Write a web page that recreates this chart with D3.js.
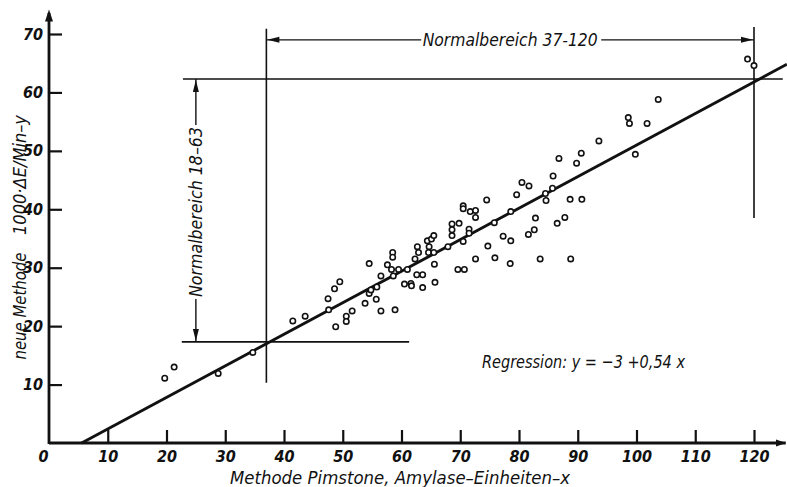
<!DOCTYPE html>
<html><head><meta charset="utf-8">
<script src="https://cdn.jsdelivr.net/npm/d3@7"></script>
<style>
html,body{margin:0;padding:0;background:#fff;}
text{font-family:"Liberation Sans Narrow","DejaVu Sans Condensed","Liberation Sans",sans-serif;font-style:italic;fill:#111;}
</style></head>
<body>
<svg id="c" width="787" height="487"></svg>
<script>
// ---- data ----
const xTicks = [0,10,20,30,40,50,60,70,80,90,100,110,120];
const yTicks = [10,20,30,40,50,60,70];
const pimstone = [19.7,21.3,28.8,34.7,41.5,43.6,47.5,47.6,48.6,49.5,48.8,50.6,50.6,51.6,53.8,54.5,54.5,54.8,55.8,55.7,
  56.5,56.5,57.6,58.5,58.5,58.3,58.6,58.9,59.5,61.0,60.5,61.6,61.7,62.6,63.6,63.6,65.6,65.7,62.3,62.9,
  62.7,64.6,64.4,65.1,65.5,64.7,65.5,67.9,68.6,68.6,68.6,69.8,71.5,71.5,70.5,70.5,70.5,71.7,72.6,72.6,
  74.5,75.8,74.7,72.6,75.9,69.6,70.7,78.5,83.6,77.3,78.6,81.6,82.6,82.8,78.6,79.6,80.5,81.7,84.5,84.6,
  85.7,85.8,86.5,86.8,89.8,90.6,88.7,90.7,87.8,88.8,93.6,98.6,98.8,101.8,99.8,103.7,118.9,120.0];
const neue = [11.1,13.0,11.9,15.5,20.9,21.7,24.7,22.8,26.4,27.6,19.9,21.7,20.8,22.6,23.9,30.7,25.6,26.2,26.7,24.6,
  28.6,22.6,30.5,32.6,31.8,29.7,28.6,22.8,29.7,29.7,27.2,27.3,26.9,28.8,28.8,26.6,30.6,27.5,31.5,32.6,
  33.6,32.6,34.6,34.9,35.5,33.6,32.6,33.6,37.5,36.5,35.5,37.6,36.6,35.9,34.5,40.6,40.1,39.6,39.8,38.6,
  41.6,37.7,33.7,31.5,31.7,29.7,29.7,30.7,31.5,35.4,34.6,35.7,36.5,38.5,39.6,42.5,44.6,44.0,42.7,41.5,
  43.6,45.7,37.6,48.7,47.9,49.6,41.7,41.7,38.6,31.5,51.7,55.7,54.7,54.7,49.4,58.8,65.7,64.6];
const regression = {intercept:-3, slope:0.54};
const normalX = [37,120];      // Normalbereich 37-120 (x)
const normalY = [17.3,62.3];   // Normalbereich 18-63 (y), as drawn
const labels = {
  xTitle:"Methode Pimstone,  Amylase\u2013Einheiten\u2013x",
  yTitleA:"neue Methode",
  yTitleB:"1000\u00b7\u0394E/Min\u2013y",
  normX:"Normalbereich 37-120",
  normY:"Normalbereich 18\u201363",
  reg:"Regression:  y = \u22123 +0,54 x"
};

// ---- drawing ----
const svg = d3.select("#c");
const x = d3.scaleLinear().domain([0,120]).range([49,754]);
const y = d3.scaleLinear().domain([0,70]).range([443,34]);
const ink = "#111";

// axes
const gx = svg.append("g").attr("transform",`translate(0,${y(0)})`)
  .call(d3.axisBottom(x).tickValues(xTicks).tickFormat(d3.format("d"))
    .tickSizeInner(-13).tickSizeOuter(0).tickPadding(8));
const gy = svg.append("g").attr("transform",`translate(${x(0)},0)`)
  .call(d3.axisLeft(y).tickValues(yTicks).tickFormat(d3.format("d"))
    .tickSizeInner(-13).tickSizeOuter(0).tickPadding(6));
[gx,gy].forEach(g=>{
  g.select(".domain").remove();
  g.selectAll(".tick line").attr("stroke",ink).attr("stroke-width",2.2);
  g.selectAll(".tick text").style("font-size","16px").style("font-weight","bold").attr("fill",ink);
});
gx.selectAll(".tick").filter(d=>d===0).select("line").remove();
gx.selectAll(".tick").filter(d=>d===0).select("text").attr("x",-6);

// axis lines with arrows
svg.append("line").attr("x1",x(0)).attr("y1",y(0)).attr("x2",x(125.4)).attr("y2",y(0))
  .attr("stroke",ink).attr("stroke-width",2.8);
svg.append("line").attr("x1",x(0)).attr("y1",y(0)+1).attr("x2",x(0)).attr("y2",y(73.6))
  .attr("stroke",ink).attr("stroke-width",2.8);
function arrowHead(tx,ty,dir,len,hw){
  const c=Math.cos(dir), s=Math.sin(dir);
  const bx=tx-c*len, by=ty-s*len;
  svg.append("path").attr("d",`M${tx},${ty}L${bx-s*hw},${by+c*hw}L${bx+s*hw},${by-c*hw}Z`).attr("fill",ink);
}
arrowHead(x(0),y(74.2),-Math.PI/2,12,4);
arrowHead(786,y(0),0,10,3.5);

// regression line
const rx0 = -regression.intercept/regression.slope, rx1 = 125.6;
svg.append("line")
  .attr("x1",x(rx0)).attr("y1",y(regression.intercept+regression.slope*rx0))
  .attr("x2",x(rx1)).attr("y2",y(regression.intercept+regression.slope*rx1))
  .attr("stroke",ink).attr("stroke-width",2.9);

// normal range lines
const thin = 1.6;
function ln(x1,y1,x2,y2,w){svg.append("line").attr("x1",x1).attr("y1",y1).attr("x2",x2).attr("y2",y2).attr("stroke",ink).attr("stroke-width",w||thin);}
ln(x(normalX[0]),y(70.9),x(normalX[0]),y(10.3));
ln(x(normalX[1]),y(71.2),x(normalX[1]),y(38.5));
ln(x(22.8),y(normalY[1]),x(124.9),y(normalY[1]));
ln(x(22.6),y(normalY[0]),x(61.3),y(normalY[0]));

// horizontal double arrow with text
const ay = y(69.0);
svg.append("text").attr("x",x(78.5)).attr("y",ay).attr("dy","0.35em").attr("text-anchor","middle")
  .attr("textLength",175).attr("lengthAdjust","spacingAndGlyphs")
  .style("font-size","17px").text(labels.normX);
ln(x(normalX[0]),ay,x(78.5)-89,ay,1.4);
ln(x(78.5)+91,ay,x(normalX[1]),ay,1.4);
arrowHead(x(normalX[0])+1,ay,Math.PI,12,3);
arrowHead(x(normalX[1])-1,ay,0,12,3);

// vertical double arrow with text
const ax = x(25.0);
const tyc = 212;
svg.append("text").attr("transform",`translate(${ax},${tyc}) rotate(-90)`).attr("dy","0.35em")
  .attr("text-anchor","middle").attr("textLength",170).attr("lengthAdjust","spacingAndGlyphs")
  .style("font-size","17px").text(labels.normY);
ln(ax,y(normalY[1]),ax,tyc-87,1.4);
ln(ax,tyc+87,ax,y(normalY[0]),1.4);
arrowHead(ax,y(normalY[1])+1,-Math.PI/2,12,3);
arrowHead(ax,y(normalY[0])-1,Math.PI/2,12,3);

// points
svg.append("g").selectAll("circle").data(pimstone.map((v,i)=>[v,neue[i]])).join("circle")
  .attr("cx",d=>x(d[0])).attr("cy",d=>y(d[1])).attr("r",2.7)
  .attr("fill","#fff").attr("stroke",ink).attr("stroke-width",1.6);

// titles
svg.append("text").attr("x",230).attr("y",484).attr("textLength",340).attr("lengthAdjust","spacingAndGlyphs")
  .style("font-size","18px").text(labels.xTitle);
svg.append("text").attr("transform","translate(26,306) rotate(-90)").attr("text-anchor","middle")
  .attr("textLength",107).attr("lengthAdjust","spacingAndGlyphs")
  .style("font-size","18px").text(labels.yTitleA);
svg.append("text").attr("transform","translate(26,175) rotate(-90)").attr("text-anchor","middle")
  .attr("textLength",120).attr("lengthAdjust","spacingAndGlyphs")
  .style("font-size","18px").text(labels.yTitleB);
svg.append("text").attr("x",482).attr("y",368).attr("textLength",203).attr("lengthAdjust","spacingAndGlyphs")
  .style("font-size","18px").text(labels.reg);
</script>
</body></html>
